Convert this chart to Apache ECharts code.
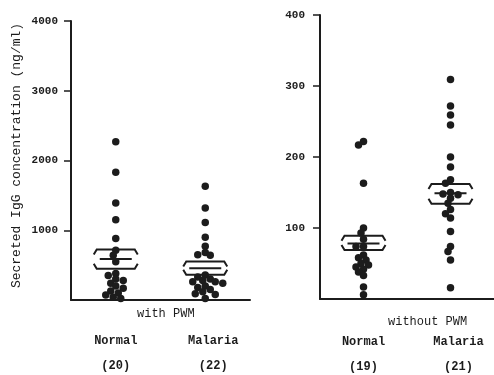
<!DOCTYPE html>
<html>
<head>
<meta charset="utf-8">
<script src="https://cdn.jsdelivr.net/npm/echarts@6/dist/echarts.min.js"></script>
<style>
  html, body { margin: 0; padding: 0; background: #fff; }
  #chart { width: 494px; height: 375px; }
</style>
</head>
<body>
<div id="chart"></div>
<script>
// groups and sample sizes
const groups = ['Normal', 'Malaria']
const pwmCounts = ['(20)', '(22)']
const noPwmCounts = ['(19)', '(21)']

// secreted IgG, with PWM (ng/ml)
const pwmNormal = [2270, 1830, 1390, 1150, 880, 715, 640, 550,
  380, 350, 300, 280, 240, 200, 170, 130, 100, 70, 40, 20]
const pwmMalaria = [1630, 1320, 1110, 900, 770, 680, 650, 640,
  360, 330, 300, 280, 260, 260, 240, 200, 180, 150, 120, 90, 80, 20]

// secreted IgG, without PWM (ng/ml)
const noPwmNormal = [222, 217, 163, 100, 93, 84, 74, 74,
  62, 58, 55, 50, 48, 45, 42, 38, 33, 17, 6]
const noPwmMalaria = [309, 272, 259, 245, 200, 186, 168, 163, 150, 148,
  147, 142, 135, 126, 120, 114, 95, 74, 67, 55, 16]

// mean and +/- SE bars
const pwmMean = [588, 455]
const pwmUpper = [725, 552]
const pwmLower = [448, 362]
const noPwmMean = [78, 149]
const noPwmUpper = [89, 162]
const noPwmLower = [69, 134]

// y tick labels
const pwmTicks = [1000, 2000, 3000, 4000]
const noPwmTicks = [100, 200, 300, 400]

const ink = '#1c1c1c'
const mono = 'Liberation Mono'

const chart = echarts.init(document.getElementById('chart'))

function xAxisFor(gridIndex, counts, margin) {
  const txt = { fontFamily: mono, fontSize: 12, fontWeight: 'bold', color: ink, lineHeight: 25 }
  return {
    type: 'category',
    gridIndex: gridIndex,
    data: groups,
    axisLine: { lineStyle: { color: ink, width: 2 } },
    axisTick: { show: false },
    axisLabel: {
      margin: margin,
      interval: 0,
      formatter: (v, i) => {
        const s = i === 0 ? 'a' : 'b'
        return '{' + s + '|' + v + '}\n{' + s + '|' + counts[i] + '}'
      },
      rich: {
        a: txt,
        // second group sits a bit right of its dots in the original
        b: Object.assign({}, txt, { padding: [0, 0, 0, 16] })
      }
    }
  }
}

function yAxisFor(gridIndex, max, interval, ticks, margin) {
  return {
    type: 'value',
    gridIndex: gridIndex,
    min: 0,
    max: max,
    interval: interval,
    splitLine: { show: false },
    axisLine: { show: true, lineStyle: { color: ink, width: 2 } },
    axisTick: { show: true, length: 7, customValues: ticks, lineStyle: { color: ink, width: 1.5 } },
    axisLabel: {
      color: ink,
      fontFamily: mono,
      fontSize: 11,
      fontWeight: 'bold',
      margin: margin,
      customValues: ticks,
      formatter: v => String(v)
    }
  }
}

function points(values, cat, offsets) {
  return values.map((v, i) => ({
    value: [cat, v],
    symbolOffset: offsets ? [offsets[i], 0] : [0, 0]
  }))
}

function bars(mean, upper, lower) {
  return mean.map((m, i) => [i, m, upper[i], lower[i]])
}

function renderBar(params, api) {
  const c = api.coord([api.value(0), api.value(1)])
  const x = c[0]
  const yM = c[1]
  const yU = api.coord([api.value(0), api.value(2)])[1]
  const yL = api.coord([api.value(0), api.value(3)])[1]
  const half = 22
  const mHalf = 16
  const hook = 5
  const style = { stroke: ink, lineWidth: 2, fill: null }
  return {
    type: 'group',
    children: [
      { type: 'polyline', shape: { points: [[x - half, yU + hook], [x - half + 3, yU], [x + half - 3, yU], [x + half, yU + hook]] }, style: style },
      { type: 'line', shape: { x1: x - mHalf, y1: yM, x2: x + mHalf, y2: yM }, style: style },
      { type: 'polyline', shape: { points: [[x - half, yL - hook], [x - half + 3, yL], [x + half - 3, yL], [x + half, yL - hook]] }, style: style }
    ]
  }
}

function scatterSeries(values, cat, axis, offsets) {
  return {
    type: 'scatter',
    xAxisIndex: axis,
    yAxisIndex: axis,
    symbolSize: 7.5,
    itemStyle: { color: ink, opacity: 1 },
    data: points(values, cat, offsets),
    z: 3
  }
}

function buildOption(offs) {
  return {
    animation: false,
    backgroundColor: '#fff',
    grid: [
      { left: 71, top: 21, width: 179, height: 279, outerBoundsMode: 'none', containLabel: false },
      { left: 320, top: 15, width: 174, height: 284, outerBoundsMode: 'none', containLabel: false }
    ],
    graphic: [
      { type: 'text', left: 137, top: 308, style: { text: 'with PWM', font: '12px "Liberation Mono"', fill: ink } },
      { type: 'text', left: 388, top: 316, style: { text: 'without PWM', font: '12px "Liberation Mono"', fill: ink } }
    ],
    xAxis: [
      xAxisFor(0, pwmCounts, 28),
      xAxisFor(1, noPwmCounts, 30)
    ],
    yAxis: [
      Object.assign(yAxisFor(0, 4000, 1000, pwmTicks, 13), {
        name: 'Secreted IgG concentration (ng/ml)',
        nameLocation: 'middle',
        nameGap: 48,
        nameTextStyle: { color: ink, fontFamily: mono, fontSize: 13, padding: [0, 0, 0, 10] }
      }),
      yAxisFor(1, 400, 100, noPwmTicks, 15)
    ],
    series: [
      scatterSeries(pwmNormal, 0, 0, offs && offs[0]),
      scatterSeries(pwmMalaria, 1, 0, offs && offs[1]),
      scatterSeries(noPwmNormal, 0, 1, offs && offs[2]),
      scatterSeries(noPwmMalaria, 1, 1, offs && offs[3]),
      {
        type: 'custom', xAxisIndex: 0, yAxisIndex: 0, z: 4,
        renderItem: renderBar, encode: { x: 0, y: [1, 2, 3] },
        data: bars(pwmMean, pwmUpper, pwmLower)
      },
      {
        type: 'custom', xAxisIndex: 1, yAxisIndex: 1, z: 4,
        renderItem: renderBar, encode: { x: 0, y: [1, 2, 3] },
        data: bars(noPwmMean, noPwmUpper, noPwmLower)
      }
    ]
  }
}

// simple beeswarm: push overlapping dots sideways
function swarm(values, axis) {
  const ys = values.map(v => chart.convertToPixel({ yAxisIndex: axis }, v))
  const order = ys.map((y, i) => i).sort((a, b) => ys[a] - ys[b])
  const placed = []
  const offsets = new Array(values.length).fill(0)
  const minDist = 5.5
  order.forEach(i => {
    for (let k = 0; k < 40; k++) {
      const dx = (k % 2 === 0 ? 1 : -1) * Math.ceil(k / 2) * 2.5
      const ok = placed.every(p => Math.hypot(p[0] - dx, p[1] - ys[i]) >= minDist)
      if (ok) {
        offsets[i] = dx
        placed.push([dx, ys[i]])
        break
      }
    }
  })
  return offsets
}

chart.setOption(buildOption(null))
const offs = [
  swarm(pwmNormal, 0),
  swarm(pwmMalaria, 0),
  swarm(noPwmNormal, 1),
  swarm(noPwmMalaria, 1)
]
chart.setOption(buildOption(offs))
</script>
</body>
</html>
